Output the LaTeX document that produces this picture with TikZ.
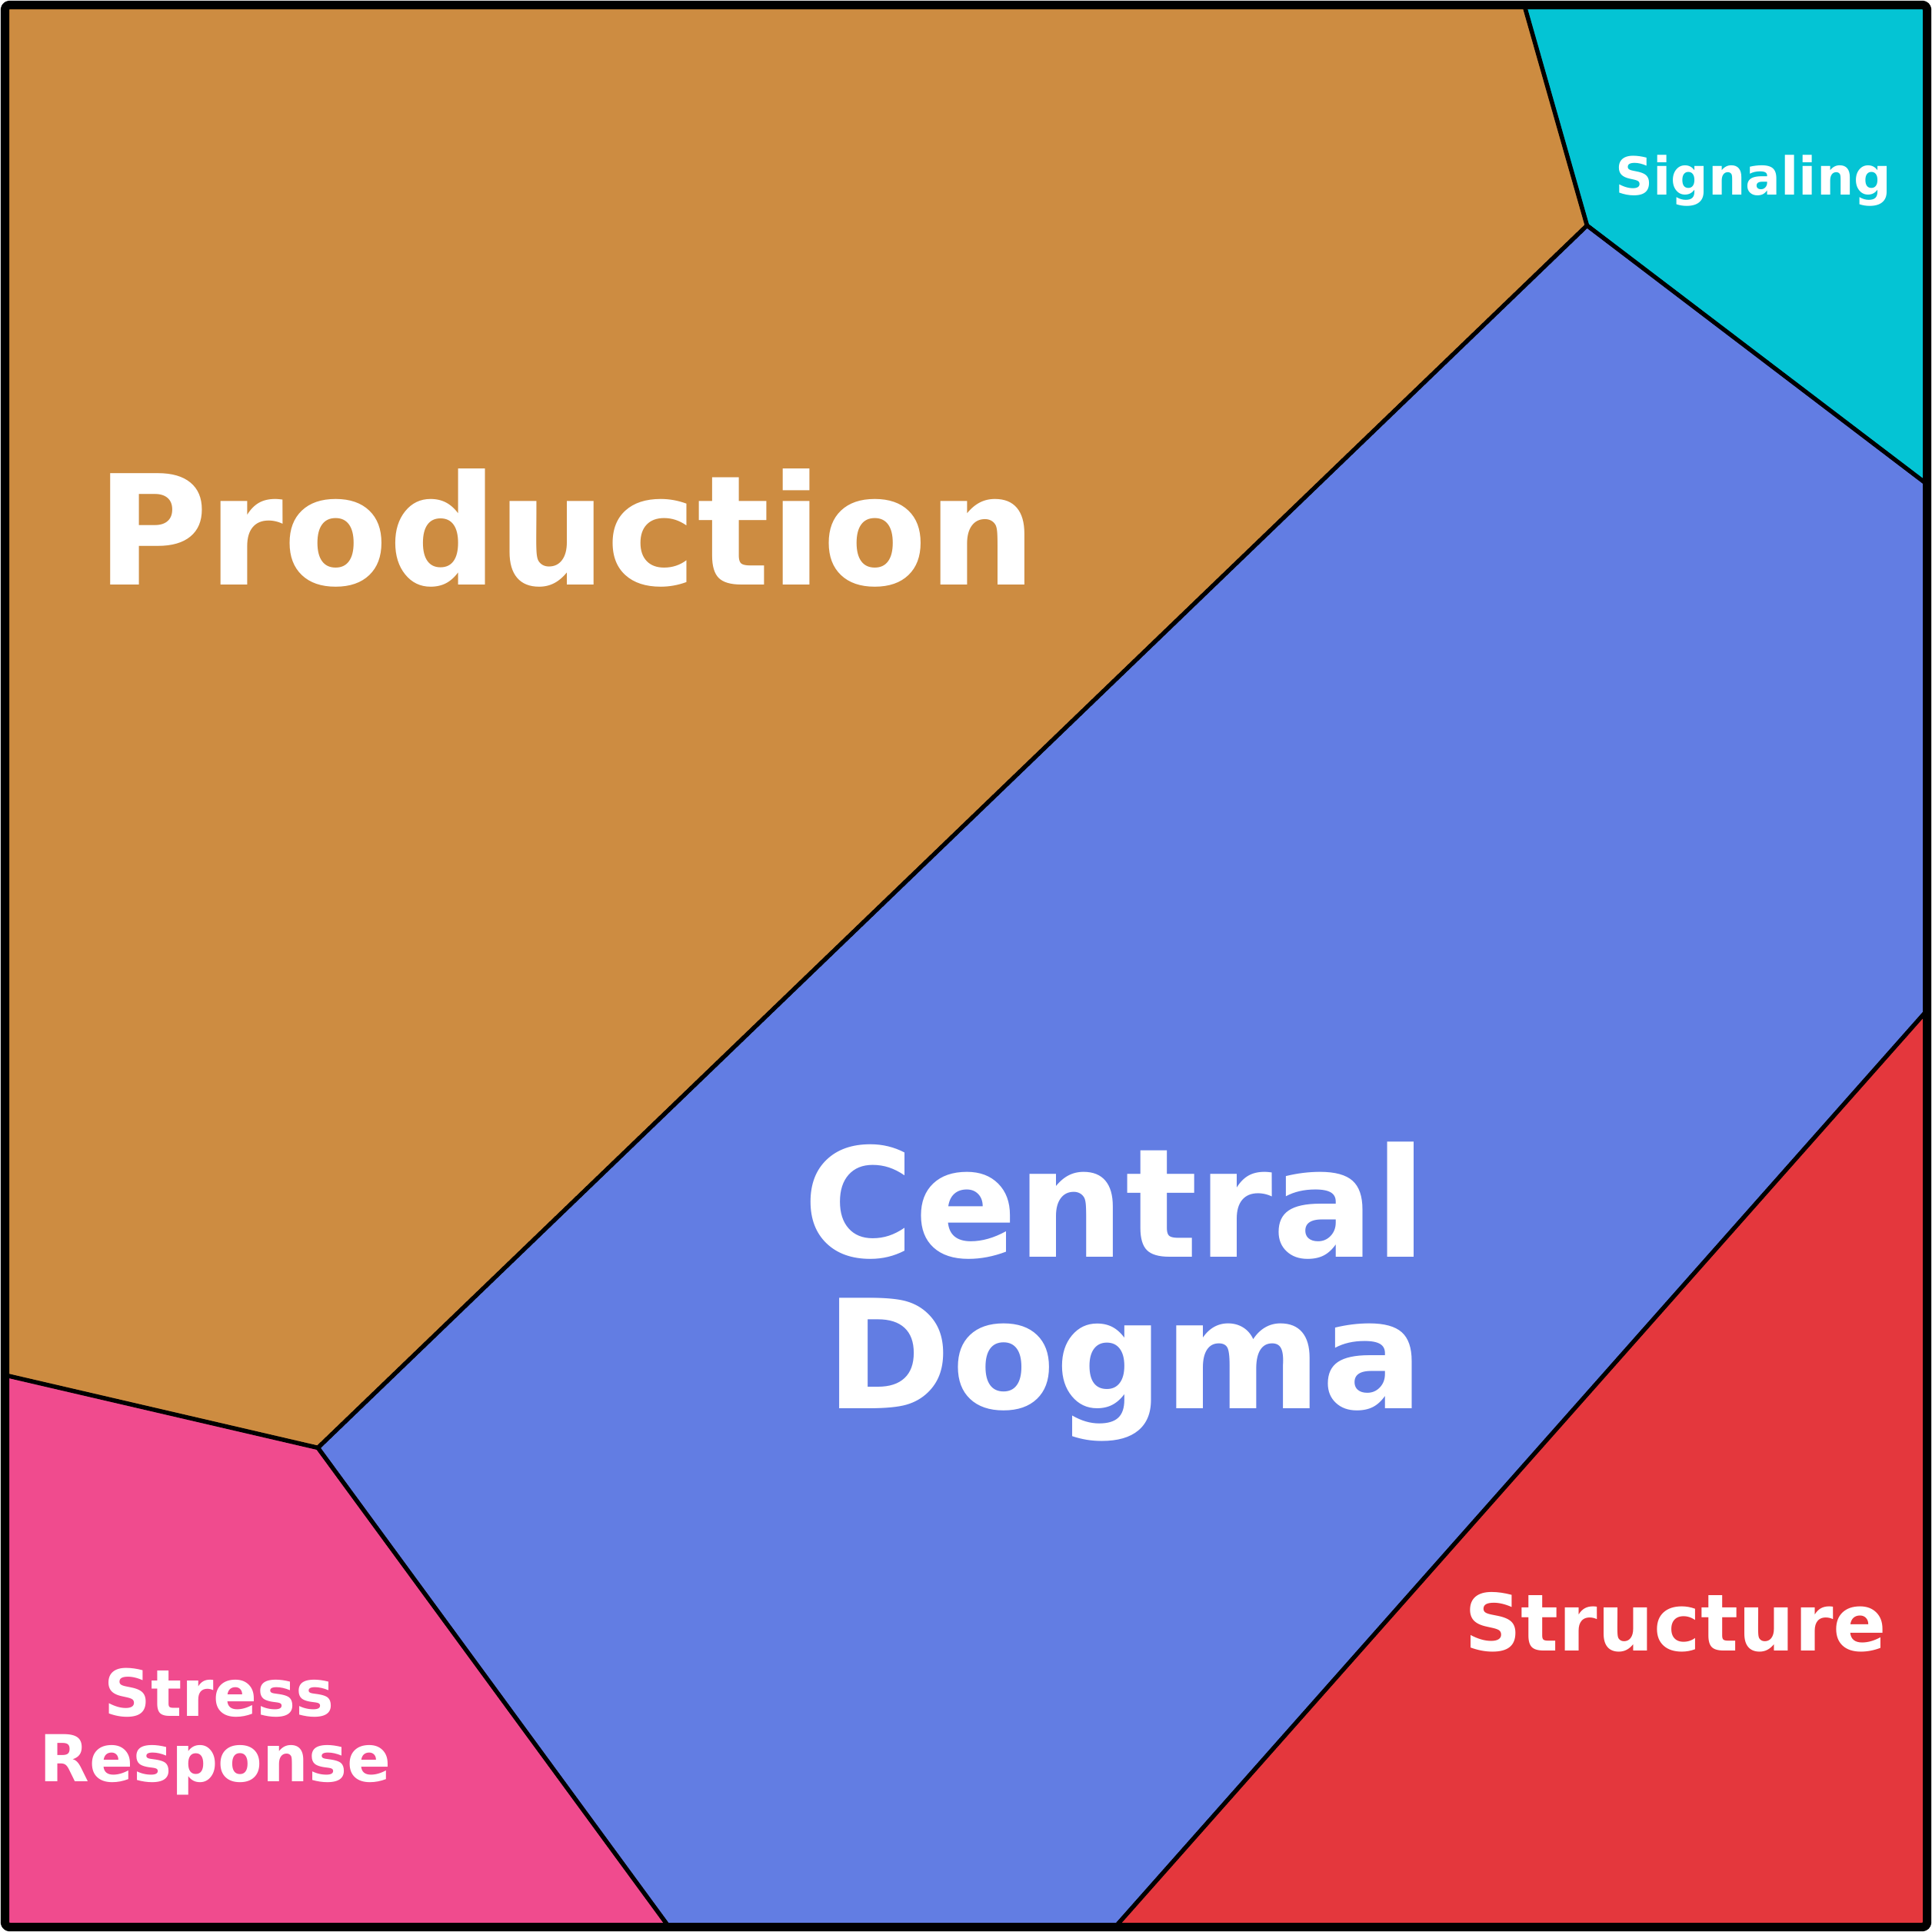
\documentclass[tikz,border=0pt]{standalone}
\usepackage{fontspec}
\setmainfont{DejaVu Sans}
\definecolor{prod}{HTML}{CD8C41}
\definecolor{sig}{HTML}{04C4D4}
\definecolor{cen}{HTML}{627DE3}
\definecolor{str}{HTML}{E4373D}
\definecolor{stre}{HTML}{F04B8E}
\begin{document}
\begin{tikzpicture}[x=1pt,y=-1pt,line join=round,
  reg/.style={draw=black,line width=3.5pt},
  lab/.style={text=white,font=\bfseries,align=center,inner sep=0pt}]
\useasboundingbox (0,0) rectangle (1568,1568);
\coordinate (A) at (1237,4);
\coordinate (B) at (1288,183);
\coordinate (C) at (1564,393);
\coordinate (D) at (1564,820);
\coordinate (E) at (905,1564);
\coordinate (F) at (543,1564);
\coordinate (G) at (258,1175);
\coordinate (H) at (4,1116);
\fill[prod] (4,4) -- (A) -- (B) -- (G) -- (H) -- cycle;
\fill[sig] (A) -- (1564,4) -- (C) -- (B) -- cycle;
\fill[cen] (B) -- (C) -- (D) -- (E) -- (F) -- (G) -- cycle;
\fill[str] (D) -- (1564,1564) -- (E) -- cycle;
\fill[stre] (H) -- (G) -- (F) -- (4,1564) -- cycle;
\draw[reg] (A) -- (B) -- (C);
\draw[reg] (B) -- (G) -- (H);
\draw[reg] (D) -- (E);
\draw[reg] (G) -- (F);
\draw[line width=7pt,rounded corners=4pt] (4,4) rectangle (1564,1564);
\node[lab,anchor=base west,font=\bfseries\fontsize{124}{124}\selectfont] (p) at (78,475) {Production};
\node[lab,anchor=base,font=\bfseries\fontsize{123}{123}\selectfont] (c1) at (905,1020) {Central};
\node[lab,anchor=base,font=\bfseries\fontsize{123}{123}\selectfont] (c2) at (913,1143) {Dogma};
\node[lab,anchor=base,font=\bfseries\fontsize{42.5}{42}\selectfont] (s) at (1423,158) {Signaling};
\node[lab,anchor=base,font=\bfseries\fontsize{64}{64}\selectfont] (st) at (1360,1340) {Structure};
\node[lab,anchor=base,font=\bfseries\fontsize{52.5}{52}\selectfont] (r1) at (178,1393) {Stress};
\node[lab,anchor=base,font=\bfseries\fontsize{52.5}{52}\selectfont] (r2) at (175,1446) {Response};
\end{tikzpicture}
\end{document}
